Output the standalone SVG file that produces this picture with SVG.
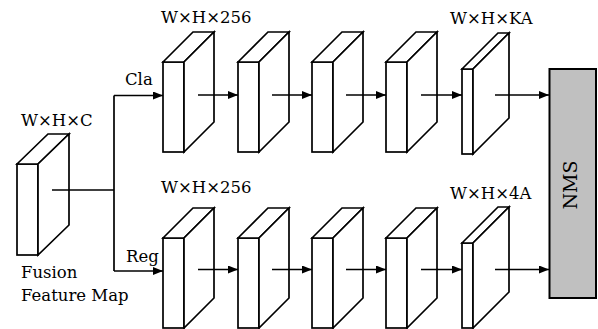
<svg xmlns="http://www.w3.org/2000/svg" width="598" height="329" viewBox="0 0 598 329">
<style>
text{font-family:'DejaVu Serif',serif;font-size:16.5px;fill:#000}
.b{fill:#fff;stroke:#000;stroke-width:1.7;stroke-linejoin:miter}
.c{fill:none;stroke:#000;stroke-width:1.7}
</style>
<defs>
<marker id="ah" viewBox="0 0 10 8" refX="10" refY="4" markerWidth="10" markerHeight="8" markerUnits="userSpaceOnUse" orient="auto">
<path d="M0,0 L10,4 L0,8 z" fill="#000"/>
</marker>
<g id="box">
<rect class="b" x="0" y="0" width="21" height="90"/>
<path class="b" d="M0,0 L30,-30 L51,-30 L21,0 z"/>
<path class="b" d="M21,0 L51,-30 L51,60 L21,90 z"/>
</g>
<g id="thin">
<rect class="b" x="0" y="0" width="11" height="85"/>
<path class="b" d="M0,0 L36,-36 L47,-36 L11,0 z"/>
<path class="b" d="M11,0 L47,-36 L47,49 L11,85 z"/>
</g>
</defs>
<rect width="598" height="329" fill="#fff"/>

<g id="input">
<rect class="b" x="17" y="164" width="21" height="91"/>
<path class="b" d="M17,164 L48,134 L69,134 L38,164 z"/>
<path class="b" d="M38,164 L69,134 L69,225 L38,255 z"/>
<text x="21" y="126">W×H×C</text>
<text x="21" y="278">Fusion</text>
<text x="21" y="301">Feature Map</text>
</g>

<g id="cla1"><use href="#box" x="163" y="62"/><text x="161" y="23">W×H×256</text></g>
<g id="cla2"><use href="#box" x="238" y="62"/></g>
<g id="cla3"><use href="#box" x="312" y="62"/></g>
<g id="cla4"><use href="#box" x="386" y="62"/></g>
<g id="cla5"><use href="#thin" x="462" y="69"/><text x="450" y="24">W×H×KA</text></g>

<g id="reg1"><use href="#box" x="163" y="238"/><text x="161" y="193">W×H×256</text></g>
<g id="reg2"><use href="#box" x="238" y="238"/></g>
<g id="reg3"><use href="#box" x="312" y="238"/></g>
<g id="reg4"><use href="#box" x="386" y="238"/></g>
<g id="reg5"><use href="#thin" x="462" y="243"/><text x="450" y="199">W×H×4A</text></g>

<g id="nms">
<rect x="549.5" y="69" width="46.5" height="229" fill="#c0c0c0" stroke="#000" stroke-width="2"/>
<text transform="translate(577,185) rotate(-90)" text-anchor="middle" style="font-size:19px">NMS</text>
</g>

<g id="connectors">
<path class="c" d="M52,190 L114,190"/>
<path class="c" d="M114,95.5 L114,271"/>
<path class="c" d="M114,95.5 L163,95.5" marker-end="url(#ah)"/>
<path class="c" d="M114,271 L163,271" marker-end="url(#ah)"/>
<text x="125" y="85">Cla</text>
<text x="126" y="262">Reg</text>

<path class="c" d="M198,95 L238,95" marker-end="url(#ah)"/>
<path class="c" d="M272,95 L312,95" marker-end="url(#ah)"/>
<path class="c" d="M346,95 L386,95" marker-end="url(#ah)"/>
<path class="c" d="M421,95 L462,95" marker-end="url(#ah)"/>
<path class="c" d="M495,95 L549,95" marker-end="url(#ah)"/>

<path class="c" d="M198,269.5 L238,269.5" marker-end="url(#ah)"/>
<path class="c" d="M272,269.5 L312,269.5" marker-end="url(#ah)"/>
<path class="c" d="M346,269.5 L386,269.5" marker-end="url(#ah)"/>
<path class="c" d="M421,269.5 L462,269.5" marker-end="url(#ah)"/>
<path class="c" d="M495,269.5 L549,269.5" marker-end="url(#ah)"/>
</g>
</svg>
